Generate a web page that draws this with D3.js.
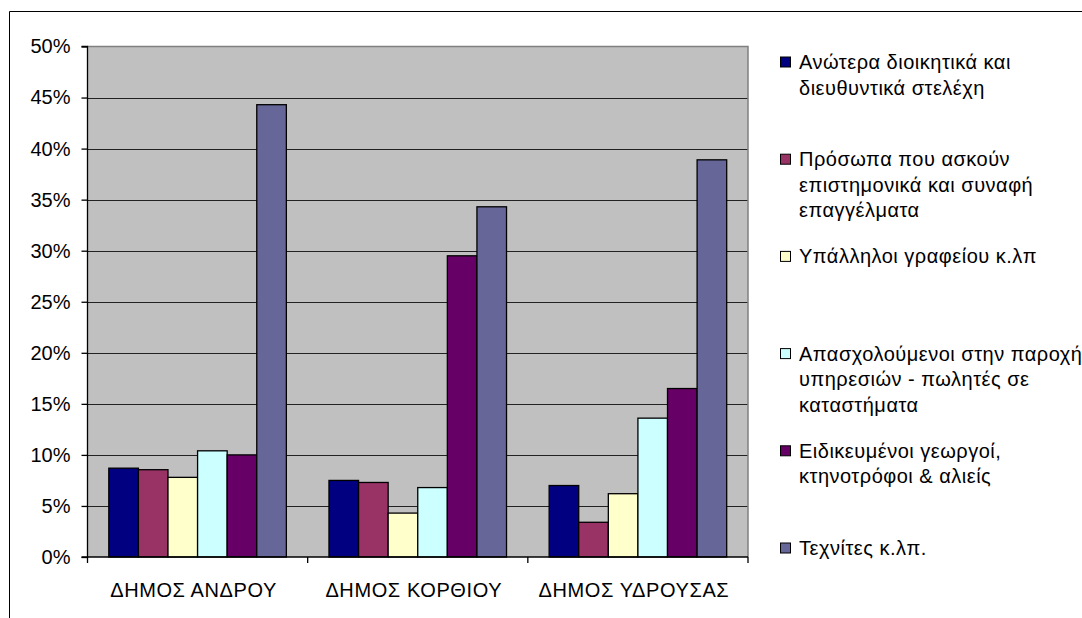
<!DOCTYPE html>
<html>
<head>
<meta charset="utf-8">
<script src="https://cdn.jsdelivr.net/npm/d3@7"></script>
<style>
  body { margin: 0; background: #fff; }
  svg text { font-family: "Liberation Sans", Arial, sans-serif; fill: #000; }
</style>
</head>
<body>
<svg id="chart" width="1082" height="618"></svg>
<script>
// data
var categories = ['ΔΗΜΟΣ ΑΝΔΡΟΥ', 'ΔΗΜΟΣ ΚΟΡΘΙΟΥ', 'ΔΗΜΟΣ ΥΔΡΟΥΣΑΣ'];
var seriesNames = [
  'Ανώτερα διοικητικά και διευθυντικά στελέχη',
  'Πρόσωπα που ασκούν επιστημονικά και συναφή επαγγέλματα',
  'Υπάλληλοι γραφείου κ.λπ',
  'Απασχολούμενοι στην παροχή υπηρεσιών - πωλητές σε καταστήματα',
  'Ειδικευμένοι γεωργοί, κτηνοτρόφοι & αλιείς',
  'Τεχνίτες κ.λπ.'
];
var legendLines = [
  ['Ανώτερα διοικητικά και', 'διευθυντικά στελέχη'],
  ['Πρόσωπα που ασκούν', 'επιστημονικά και συναφή', 'επαγγέλματα'],
  ['Υπάλληλοι γραφείου κ.λπ'],
  ['Απασχολούμενοι στην παροχή', 'υπηρεσιών - πωλητές σε', 'καταστήματα'],
  ['Ειδικευμένοι γεωργοί,', 'κτηνοτρόφοι & αλιείς'],
  ['Τεχνίτες κ.λπ.']
];
var colors = ['#000080', '#993366', '#ffffcc', '#ccffff', '#660066', '#666699'];

// one array per series, one value per category
var anoteraValues   = [0.087, 0.075, 0.070];
var prosopaValues   = [0.0855, 0.073, 0.034];
var ypalliloiValues = [0.078, 0.043, 0.062];
var apasxolValues   = [0.104, 0.068, 0.136];
var georgoiValues   = [0.100, 0.295, 0.165];
var texnitesValues  = [0.443, 0.343, 0.389];
var seriesValues = [anoteraValues, prosopaValues, ypalliloiValues, apasxolValues, georgoiValues, texnitesValues];

var yTicks = [0, 0.05, 0.10, 0.15, 0.20, 0.25, 0.30, 0.35, 0.40, 0.45, 0.50];

var svg = d3.select('#chart');
var plotLeft = 87.5, plotRight = 748, plotTop = 46.5, plotBottom = 557;

// outer chart frame (continues past the window)
svg.append('path')
  .attr('d', 'M9.5,700 L9.5,11.5 L1100,11.5')
  .attr('fill', 'none')
  .attr('stroke', '#000')
  .attr('stroke-width', 1);

var x0 = d3.scaleBand().domain(categories).range([plotLeft, plotRight]).paddingInner(0).paddingOuter(0);
var x1 = d3.scaleBand().domain(d3.range(seriesNames.length)).range([0, x0.bandwidth()])
  .paddingInner(0).paddingOuter(0.72);
var y = d3.scaleLinear().domain([0, 0.5]).range([plotBottom, plotTop]);

// plot background
svg.append('rect')
  .attr('x', plotLeft).attr('y', plotTop)
  .attr('width', plotRight - plotLeft).attr('height', plotBottom - plotTop)
  .attr('fill', '#c0c0c0')
  .attr('stroke', 'none');

// gridlines
svg.append('g').selectAll('line')
  .data(yTicks.slice(1, -1))
  .enter().append('line')
  .attr('x1', plotLeft).attr('x2', plotRight)
  .attr('y1', function(d) { return Math.round(y(d)) + 0.5; })
  .attr('y2', function(d) { return Math.round(y(d)) + 0.5; })
  .attr('stroke', '#222')
  .attr('stroke-width', 1);

// plot frame top/right
svg.append('path')
  .attr('d', 'M' + plotLeft + ',' + plotTop + ' L' + plotRight + ',' + plotTop + ' L' + plotRight + ',' + plotBottom)
  .attr('fill', 'none')
  .attr('stroke', '#808080')
  .attr('stroke-width', 1.5);

// bars
var groups = svg.append('g').selectAll('g')
  .data(seriesValues)
  .enter().append('g')
  .attr('fill', function(d, i) { return colors[i]; });

groups.each(function(vals, si) {
  d3.select(this).selectAll('rect')
    .data(vals)
    .enter().append('rect')
    .attr('x', function(d, ci) { return x0(categories[ci]) + x1(si); })
    .attr('y', function(d) { return y(d); })
    .attr('width', x1.bandwidth())
    .attr('height', function(d) { return plotBottom - y(d); })
    .attr('stroke', '#000')
    .attr('stroke-width', 1.3);
});

// y axis
var yAxis = d3.axisLeft(y)
  .tickValues(yTicks)
  .tickFormat(d3.format('.0%'))
  .tickSize(6)
  .tickPadding(11);
var yg = svg.append('g').attr('transform', 'translate(' + plotLeft + ',0)').call(yAxis);
yg.select('.domain').attr('stroke', '#000').attr('stroke-width', 1.3)
  .attr('d', 'M-6,' + plotTop + 'H0V' + plotBottom + 'H-6');
yg.selectAll('.tick line').attr('stroke', '#000').attr('stroke-width', 1.3);
yg.selectAll('.tick text')
  .attr('font-size', '20px')
  .attr('font-family', '"Liberation Sans", Arial, sans-serif')
  .attr('fill', '#000');

// x axis: ticks at category boundaries
var xg = svg.append('g');
xg.append('line')
  .attr('x1', plotLeft).attr('x2', plotRight)
  .attr('y1', plotBottom).attr('y2', plotBottom)
  .attr('stroke', '#000').attr('stroke-width', 1.3);
xg.selectAll('line.tk')
  .data(categories.concat(['end']))
  .enter().append('line')
  .attr('class', 'tk')
  .attr('x1', function(d, i) { return i < categories.length ? x0(d) : plotRight; })
  .attr('x2', function(d, i) { return i < categories.length ? x0(d) : plotRight; })
  .attr('y1', plotBottom).attr('y2', plotBottom + 6)
  .attr('stroke', '#000').attr('stroke-width', 1.3);
xg.selectAll('text')
  .data(categories)
  .enter().append('text')
  .attr('x', function(d) { return x0(d) + x0.bandwidth() / 2 - 4; })
  .attr('y', 597)
  .attr('text-anchor', 'middle')
  .attr('font-size', '20px')
  .attr('letter-spacing', '0.6px')
  .text(function(d) { return d; });

// legend
var legend = svg.append('g').selectAll('g')
  .data(legendLines)
  .enter().append('g')
  .attr('transform', function(d, i) { return 'translate(780,' + (62 + i * 97.2) + ')'; });

legend.append('rect')
  .attr('x', 0.5).attr('y', -5)
  .attr('width', 10).attr('height', 10)
  .attr('fill', function(d, i) { return colors[i]; })
  .attr('stroke', '#000')
  .attr('stroke-width', 1);

legend.each(function(lines) {
  d3.select(this).selectAll('text')
    .data(lines)
    .enter().append('text')
    .attr('x', 19)
    .attr('y', function(d, j) { return 7 + j * 25.5; })
    .attr('font-size', '20px')
    .attr('letter-spacing', '0.5px')
    .text(function(d) { return d; });
});
</script>
</body>
</html>
